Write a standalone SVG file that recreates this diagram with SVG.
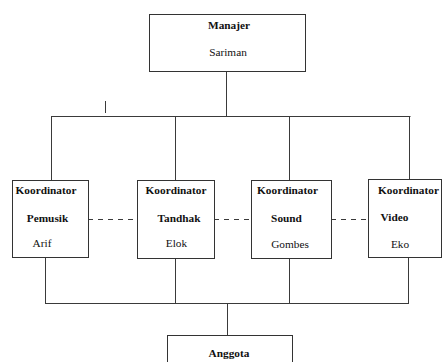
<svg xmlns="http://www.w3.org/2000/svg" width="443" height="362" viewBox="0 0 443 362">
  <style>
    .box { fill: #ffffff; stroke: #333333; stroke-width: 1; }
    .ln { fill: none; stroke: #3a3a3a; stroke-width: 1; }
    .dash { fill: none; stroke: #3a3a3a; stroke-width: 1; stroke-dasharray: 5 5; }
    text { font-family: 'Liberation Serif', 'Times New Roman', 'DejaVu Serif', serif; font-size: 11.3px; fill: #111111; text-anchor: middle; }
    .b { font-weight: bold; }
  </style>
  <rect width="443" height="362" fill="#ffffff"/>

  <g id="connectors">
    <path class="ln" d="M226.5 71 V116.5"/>
    <path class="ln" d="M51 116.5 H410.5"/>
    <path class="ln" d="M105.5 101 V113"/>
    <path class="ln" d="M51.5 116.5 V180"/>
    <path class="ln" d="M175.5 116.5 V180"/>
    <path class="ln" d="M289.5 116.5 V180"/>
    <path class="ln" d="M409.5 116.5 V179"/>
    <path class="dash" d="M88 219.5 H137"/>
    <path class="dash" d="M214 219.5 H251"/>
    <path class="dash" d="M331 219.5 H368"/>
    <path class="ln" d="M45.5 257 V303.5"/>
    <path class="ln" d="M175.5 258 V303.5"/>
    <path class="ln" d="M289.5 258 V303.5"/>
    <path class="ln" d="M408.5 257 V303.5"/>
    <path class="ln" d="M45 303.5 H409"/>
    <path class="ln" d="M227.5 303.5 V335.5"/>
  </g>

  <g id="manajer">
    <rect class="box" x="149.5" y="14.5" width="156" height="57"/>
    <text class="b" x="229" y="29" font-family="Liberation Serif, serif">Manajer</text>
    <text x="228" y="56" font-family="Liberation Serif, serif">Sariman</text>
  </g>

  <g id="pemusik">
    <rect class="box" x="12.5" y="180.5" width="76" height="77"/>
    <text class="b" x="46" y="194">Koordinator</text>
    <text class="b" x="47.5" y="222">Pemusik</text>
    <text x="42" y="247">Arif</text>
  </g>

  <g id="tandhak">
    <rect class="box" x="137.5" y="180.5" width="77" height="78"/>
    <text class="b" x="176" y="194">Koordinator</text>
    <text class="b" x="179" y="222">Tandhak</text>
    <text x="176.5" y="247">Elok</text>
  </g>

  <g id="sound">
    <rect class="box" x="251.5" y="180.5" width="80" height="78"/>
    <text class="b" x="287.5" y="194">Koordinator</text>
    <text class="b" x="286.5" y="221.5">Sound</text>
    <text x="290" y="248">Gombes</text>
  </g>

  <g id="video">
    <rect class="box" x="368.5" y="179.5" width="73" height="78"/>
    <text class="b" x="408.5" y="193.5">Koordinator</text>
    <text class="b" x="394.5" y="220.5">Video</text>
    <text x="400" y="248">Eko</text>
  </g>

  <g id="anggota">
    <rect class="box" x="167.5" y="335.5" width="125" height="40"/>
    <text class="b" x="229" y="356.5">Anggota</text>
  </g>
</svg>
